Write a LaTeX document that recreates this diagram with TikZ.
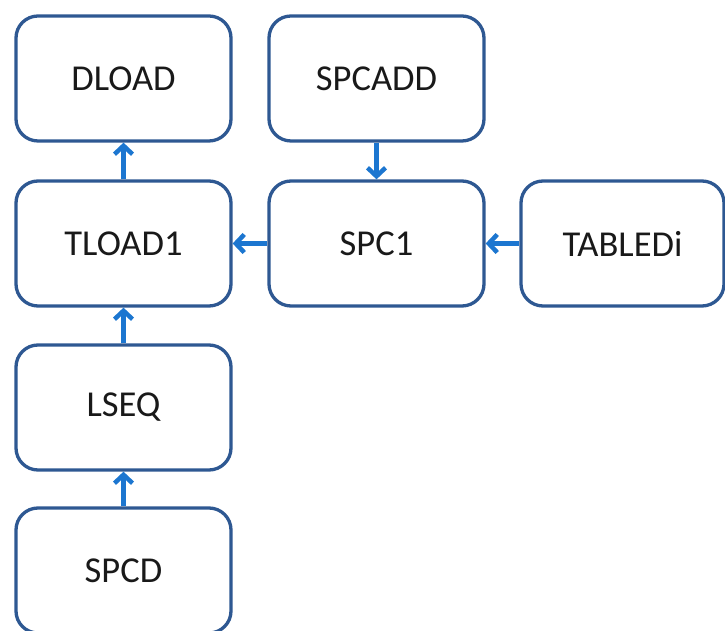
\documentclass[tikz,border=0pt]{standalone}
\usepackage{fontspec}
\setmainfont{Carlito}
\usepackage{xcolor}
\usetikzlibrary{arrows.meta,positioning}
\definecolor{boxblue}{RGB}{46,88,146}
\definecolor{arrblue}{RGB}{28,118,208}

\begin{document}
\begin{tikzpicture}[x=1pt,y=1pt]
		\tikzstyle{every node}=[font=\fontsize{36.5}{40}\selectfont, text=black!90]
		\tikzstyle{card}=[draw=boxblue, line width=3.3pt, rounded corners=22pt, fill=white, minimum width=215pt, minimum height=125pt, inner sep=0pt]
		\tikzstyle{link}=[draw=arrblue, line width=4.5pt, -{Straight Barb[length=8.5pt,width=18pt,line width=4.5pt]}]
		\useasboundingbox (0,0) rectangle (725,631);
		\node [card] (dload) at (123.5,552.5) {DLOAD};
		\node [card] (spcadd) at (376.5,552.5) {SPCADD};
		\node [card] (tload) at (123.5,387.5) {TLOAD1};
		\node [card] (spc) at (376.5,387.5) {SPC1};
		\node [card, minimum width=203pt] (tabled) at (622.5,387.5) {TABLEDi};
		\node [card] (lseq) at (123.5,223.5) {LSEQ};
		\node [card] (spcd) at (123.5,60.5) {SPCD};
		\draw [link] (tload.north) -- (dload.south);
		\draw [link] (spcadd.south) -- (spc.north);
		\draw [link] (spc.west) -- (tload.east);
		\draw [link] (tabled.west) -- (spc.east);
		\draw [link] (lseq.north) -- (tload.south);
		\draw [link] (spcd.north) -- (lseq.south);
\end{tikzpicture}
\end{document}
